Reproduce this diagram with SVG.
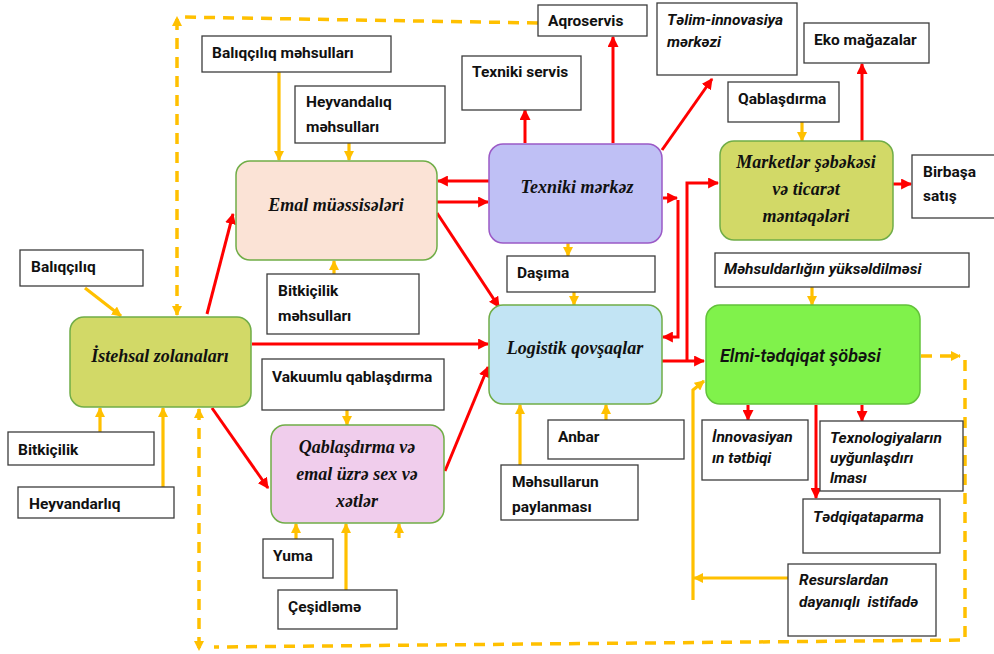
<svg xmlns="http://www.w3.org/2000/svg" width="994" height="654" viewBox="0 0 994 654">
  <style>
    .lbl rect { fill: #ffffff; stroke: #3c3c3c; stroke-width: 1.3; }
    .lbl text { font-family: Roboto, "Liberation Sans", sans-serif; font-weight: 700; font-size: 15.5px; fill: #111; white-space: pre; }
    .lbl text.it { font-style: italic; }
    .node rect { stroke: #70ad47; stroke-width: 1.5; }
    .node text { font-family: "Liberation Serif", "Times New Roman", serif; font-weight: 700; font-style: italic; font-size: 18px; fill: #111; text-anchor: middle; }
    .red { stroke: #ff0000; stroke-width: 3; fill: none; marker-end: url(#ar); }
    .yel { stroke: #ffc000; stroke-width: 3.2; fill: none; marker-end: url(#ay); }
    .dash { stroke: #ffc000; stroke-width: 3.5; fill: none; stroke-dasharray: 11 8; }
  </style>
  <defs>
    <marker id="ar" viewBox="0 0 10 10" refX="9" refY="5" markerWidth="11" markerHeight="11" markerUnits="userSpaceOnUse" orient="auto">
      <path d="M0,0 L10,5 L0,10 z" fill="#ff0000"/>
    </marker>
    <marker id="ay" viewBox="0 0 10 10" refX="9" refY="5" markerWidth="10" markerHeight="10" markerUnits="userSpaceOnUse" orient="auto">
      <path d="M0,0 L10,5 L0,10 z" fill="#ffc000"/>
    </marker>
    <marker id="ayb" viewBox="0 0 10 10" refX="9" refY="5" markerWidth="10" markerHeight="10" markerUnits="userSpaceOnUse" orient="auto-start-reverse">
      <path d="M0,0 L10,5 L0,10 z" fill="#ffc000"/>
    </marker>
  </defs>

  <rect width="994" height="654" fill="#ffffff"/>

  <!-- connectors -->
  <g id="connectors">
    <!-- red flows -->
    <path class="red" d="M207,314 L233,214"/>
    <path class="red" d="M252,344 L488,344"/>
    <path class="red" d="M212,408 L268,488"/>
    <path class="red" d="M489,181 L438,181"/>
    <path class="red" d="M437,202 L488,202"/>
    <path class="red" d="M437,213 L499,307"/>
    <path class="red" d="M445,471 L488,367"/>
    <path class="red" d="M525,143 L525,110"/>
    <path class="red" d="M613,143 L613,37"/>
    <path class="red" d="M662,150 L712,79"/>
    <path class="red" d="M663,198 L677,198"/>
    <path class="red" d="M678,200 L678,337 L663,337"/>
    <path class="red" d="M662,361 L704,361"/>
    <path class="red" d="M687,361 L687,183 L718,183"/>
    <path class="red" d="M862,141 L862,64"/>
    <path class="red" d="M893,184 L911,184"/>
    <path class="red" d="M748,405 L748,420"/>
    <path class="red" d="M862,405 L862,421"/>
    <path class="red" d="M816,405 L816,498"/>

    <!-- yellow inputs -->
    <path class="yel" d="M85,288 L121,316"/>
    <path class="yel" d="M100,432 L100,408"/>
    <path class="yel" d="M163,487 L163,408"/>
    <path class="yel" d="M279,72 L279,160"/>
    <path class="yel" d="M349,143 L349,160"/>
    <path class="yel" d="M334,274 L334,261"/>
    <path class="yel" d="M347,410 L347,425"/>
    <path class="yel" d="M296,539 L296,524"/>
    <path class="yel" d="M346,590 L346,524"/>
    <path class="yel" d="M399,538 L399,524"/>
    <path class="yel" d="M568,243 L568,256"/>
    <path class="yel" d="M574,292 L574,305"/>
    <path class="yel" d="M606,420 L606,405"/>
    <path class="yel" d="M520,465 L520,405"/>
    <path class="yel" d="M802,122 L802,141"/>
    <path class="yel" d="M812,287 L812,305"/>
    <path class="yel" d="M788,578 L694,578"/>
    <path class="yel" d="M693,600 L693,390 L704,381"/>

    <!-- dashed feedback loops -->
    <path class="dash" d="M538,23 L180,17"/>
    <path class="dash" d="M177,315 L177,17" marker-start="url(#ayb)" marker-end="url(#ayb)"/>
    <path class="dash" d="M921,356 L960,356" marker-end="url(#ayb)"/>
    <path class="dash" d="M965,360 L965,640 L214,647"/>
    <path class="dash" d="M199,409 L199,650" marker-start="url(#ayb)" marker-end="url(#ayb)"/>
  </g>

  <!-- main nodes -->
  <g id="istehsal" class="node">
    <rect x="70" y="317" width="181" height="90" rx="14" fill="#d2d967"/>
    <text x="160" y="362">İstehsal zolanaları</text>
  </g>
  <g id="emal" class="node">
    <rect x="236" y="161" width="201" height="99" rx="14" fill="#fbe3d6"/>
    <text x="336" y="211">Emal müəssisələri</text>
  </g>
  <g id="texniki-merkez" class="node">
    <rect x="489" y="144" width="173" height="99" rx="14" fill="#bfc0f5" style="stroke:#9b59c6"/>
    <text x="577" y="193">Texniki mərkəz</text>
  </g>
  <g id="marketler" class="node">
    <rect x="720" y="141" width="173" height="99" rx="14" fill="#d2d967"/>
    <text x="806" y="168">Marketlər şəbəkəsi</text>
    <text x="806" y="195">və ticarət</text>
    <text x="806" y="222">məntəqələri</text>
  </g>
  <g id="logistik" class="node">
    <rect x="489" y="305" width="173" height="99" rx="14" fill="#c2e4f4"/>
    <text x="575" y="354">Logistik qovşaqlar</text>
  </g>
  <g id="elmi" class="node">
    <rect x="706" y="305" width="214" height="99" rx="14" fill="#80f24b" style="stroke:#62c23a"/>
    <text x="720" y="362" style="font-family:Roboto, 'Liberation Sans', sans-serif; font-weight:600; font-size:18px; text-anchor:start">Elmi-tədqiqat şöbəsi</text>
  </g>
  <g id="qablasdirma-sex" class="node">
    <rect x="271" y="425" width="173" height="98" rx="14" fill="#f0cdec"/>
    <text x="357" y="453">Qablaşdırma və</text>
    <text x="357" y="480">emal üzrə sex və</text>
    <text x="357" y="507">xətlər</text>
  </g>

  <!-- label boxes -->
  <g id="baliqciliq" class="lbl">
    <rect x="20" y="250" width="123" height="36"/>
    <text x="31" y="272">Balıqçılıq</text>
  </g>
  <g id="bitkicilik" class="lbl">
    <rect x="8" y="432" width="146" height="33"/>
    <text x="18" y="455">Bitkiçilik</text>
  </g>
  <g id="heyvandarliq" class="lbl">
    <rect x="18" y="487" width="156" height="31"/>
    <text x="29" y="509">Heyvandarlıq</text>
  </g>
  <g id="baliqciliq-mehsullari" class="lbl">
    <rect x="202" y="36" width="189" height="36"/>
    <text x="212" y="58">Balıqçılıq məhsulları</text>
  </g>
  <g id="heyvandaliq-mehsullari" class="lbl">
    <rect x="295" y="86" width="150" height="57"/>
    <text x="306" y="107">Heyvandalıq</text>
    <text x="306" y="132">məhsulları</text>
  </g>
  <g id="texniki-servis" class="lbl">
    <rect x="462" y="56" width="119" height="54"/>
    <text x="472" y="77">Texniki servis</text>
  </g>
  <g id="aqroservis" class="lbl">
    <rect x="538" y="5" width="109" height="31"/>
    <text x="548" y="26">Aqroservis</text>
  </g>
  <g id="telim" class="lbl">
    <rect x="657" y="3" width="140" height="72"/>
    <text class="it" x="667" y="25">Təlim-innovasiya</text>
    <text class="it" x="667" y="47">mərkəzi</text>
  </g>
  <g id="eko" class="lbl">
    <rect x="804" y="23" width="125" height="40"/>
    <text x="814" y="45">Eko mağazalar</text>
  </g>
  <g id="qablasdirma" class="lbl">
    <rect x="728" y="82" width="111" height="40"/>
    <text x="738" y="104">Qablaşdırma</text>
  </g>
  <g id="birbasa" class="lbl">
    <rect x="912" y="155" width="84" height="63"/>
    <text x="923" y="177">Birbaşa</text>
    <text x="923" y="201">satış</text>
  </g>
  <g id="mehsuldarliq" class="lbl">
    <rect x="715" y="253" width="254" height="34"/>
    <text class="it" x="724" y="274">Məhsuldarlığın yüksəldilməsi</text>
  </g>
  <g id="dasima" class="lbl">
    <rect x="507" y="256" width="148" height="36"/>
    <text x="517" y="278">Daşıma</text>
  </g>
  <g id="bitkicilik-mehsullari" class="lbl">
    <rect x="267" y="274" width="152" height="60"/>
    <text x="278" y="296">Bitkiçilik</text>
    <text x="278" y="321">məhsulları</text>
  </g>
  <g id="vakuumlu" class="lbl">
    <rect x="262" y="359" width="182" height="51"/>
    <text x="272" y="382">Vakuumlu qablaşdırma</text>
  </g>
  <g id="yuma" class="lbl">
    <rect x="263" y="539" width="70" height="39"/>
    <text x="273" y="561">Yuma</text>
  </g>
  <g id="cesidleme" class="lbl">
    <rect x="278" y="590" width="119" height="39"/>
    <text x="288" y="612">Çeşidləmə</text>
  </g>
  <g id="anbar" class="lbl">
    <rect x="548" y="420" width="136" height="39"/>
    <text x="558" y="442">Anbar</text>
  </g>
  <g id="paylanma" class="lbl">
    <rect x="501" y="465" width="137" height="55"/>
    <text x="512" y="487">Məhsullarun</text>
    <text x="512" y="512">paylanması</text>
  </g>
  <g id="innovasiya" class="lbl">
    <rect x="702" y="420" width="106" height="60"/>
    <text class="it" x="712" y="442">İnnovasiyan</text>
    <text class="it" x="712" y="463">ın tətbiqi</text>
  </g>
  <g id="texnologiya" class="lbl">
    <rect x="820" y="421" width="143" height="70"/>
    <text class="it" x="830" y="443">Texnologiyaların</text>
    <text class="it" x="830" y="463">uyğunlaşdırı</text>
    <text class="it" x="830" y="483">lması</text>
  </g>
  <g id="tedqiqat" class="lbl">
    <rect x="803" y="499" width="137" height="54"/>
    <text class="it" x="813" y="522">Tədqiqataparma</text>
  </g>
  <g id="resurs" class="lbl">
    <rect x="788" y="564" width="148" height="72"/>
    <text class="it" x="799" y="585">Resurslardan</text>
    <text class="it" x="799" y="607">dayanıqlı  istifadə</text>
  </g>
</svg>
